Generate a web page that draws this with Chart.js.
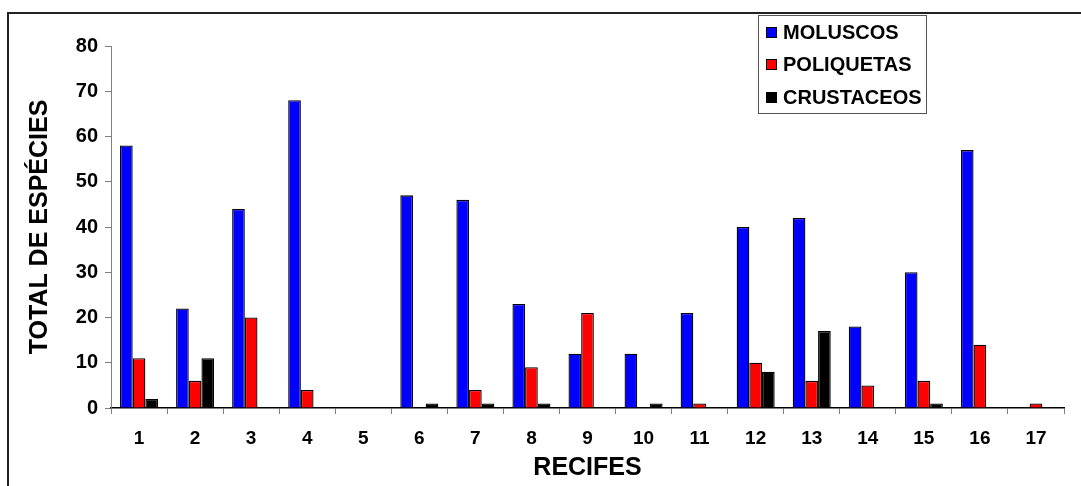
<!DOCTYPE html>
<html>
<head>
<meta charset="utf-8">
<script src="https://cdn.jsdelivr.net/npm/chart.js@4/dist/chart.umd.min.js"></script>
<style>
  html, body { margin: 0; padding: 0; background: #fff; }
  #wrap { width: 1081px; height: 486px; }
</style>
</head>
<body>
<div id="wrap"><canvas id="recifesChart"></canvas></div>
<script>
const recifes = ['1', '2', '3', '4', '5', '6', '7', '8', '9', '10', '11', '12', '13', '14', '15', '16', '17'];
const moluscos = [58, 22, 44, 68, 0, 47, 46, 23, 12, 12, 21, 40, 42, 18, 30, 57, 0];
const poliquetas = [11, 6, 20, 4, 0, 0, 4, 9, 21, 0, 1, 10, 6, 5, 6, 14, 1];
const crustaceos = [2, 11, 0, 0, 0, 1, 1, 1, 0, 1, 0, 8, 17, 0, 1, 0, 0];
const yTicks = [0, 10, 20, 30, 40, 50, 60, 70, 80];

const fontFamily = '"Liberation Sans", Arial, sans-serif';

// outer frame + legend box drawn by hand
const framePlugin = {
  id: 'frame',
  beforeDraw: (chart) => {
    const ctx = chart.ctx;
    ctx.save();
    ctx.fillStyle = '#fff';
    ctx.fillRect(0, 0, chart.width, chart.height);
    ctx.strokeStyle = '#222';
    ctx.lineWidth = 2;
    ctx.strokeRect(8, 13, chart.width + 20, chart.height + 20);
    ctx.restore();
  },
  afterDraw: (chart) => {
    const ctx = chart.ctx;
    ctx.save();
    ctx.strokeStyle = '#555';
    ctx.lineWidth = 1;
    ctx.fillStyle = '#fff';
    ctx.fillRect(758.5, 15.5, 168, 98);
    ctx.strokeRect(758.5, 15.5, 168, 98);
    const rows = [32, 64, 97];
    ctx.font = 'bold 20px ' + fontFamily;
    ctx.textBaseline = 'middle';
    chart.data.datasets.forEach((ds, i) => {
      const y = rows[i];
      ctx.fillStyle = ds.backgroundColor;
      ctx.fillRect(766, y - 5, 10, 10);
      ctx.strokeStyle = '#000';
      ctx.strokeRect(766.5, y - 4.5, 10, 10);
      ctx.fillStyle = '#000';
      ctx.fillText(ds.label, 783, y + 1);
    });
    ctx.restore();
  },
};

const data = {
  labels: recifes,
  datasets: [
    { label: 'MOLUSCOS', data: moluscos, backgroundColor: '#0000ff' },
    { label: 'POLIQUETAS', data: poliquetas, backgroundColor: '#ff0000' },
    { label: 'CRUSTACEOS', data: crustaceos, backgroundColor: '#000000' },
  ],
};

const config = {
  type: 'bar',
  data: data,
  options: {
    responsive: true,
    maintainAspectRatio: false,
    animation: false,
    layout: {
      padding: { top: 46, right: 17, bottom: 0, left: 0 },
    },
    datasets: {
      bar: {
        borderColor: '#000',
        borderWidth: 1.3,
        categoryPercentage: 0.678,
        barPercentage: 1,
      },
    },
    plugins: {
      legend: { display: false },
      tooltip: { enabled: false },
    },
    scales: {
      x: {
        grid: {
          drawOnChartArea: false,
          tickLength: 6,
          tickColor: '#808080',
          offset: true,
        },
        border: { color: '#000', width: 1.5 },
        ticks: {
          color: '#000',
          padding: 13,
          maxRotation: 0,
          font: { family: fontFamily, size: 19, weight: 'bold' },
        },
        title: {
          display: true,
          text: 'RECIFES',
          color: '#000',
          padding: { top: 0, bottom: 3 },
          font: { family: fontFamily, size: 25, weight: 'bold' },
        },
        afterFit: (scale) => {
          scale.height = 78;
        },
      },
      y: {
        min: 0,
        max: 80,
        afterBuildTicks: (scale) => {
          scale.ticks = yTicks.map((v) => ({ value: v }));
        },
        grid: {
          drawOnChartArea: false,
          tickLength: 6,
          tickColor: '#808080',
        },
        border: { color: '#808080', width: 1 },
        ticks: {
          color: '#000',
          padding: 7,
          font: { family: fontFamily, size: 20, weight: 'bold' },
        },
        title: {
          display: true,
          text: 'TOTAL DE ESPÉCIES',
          color: '#000',
          padding: { top: 25, bottom: 0 },
          font: { family: fontFamily, size: 25, weight: 'bold' },
        },
        afterFit: (scale) => {
          scale.width = 111;
        },
      },
    },
  },
  plugins: [framePlugin],
};

window.recifesChart = new Chart(document.getElementById('recifesChart'), config);
</script>
</body>
</html>
